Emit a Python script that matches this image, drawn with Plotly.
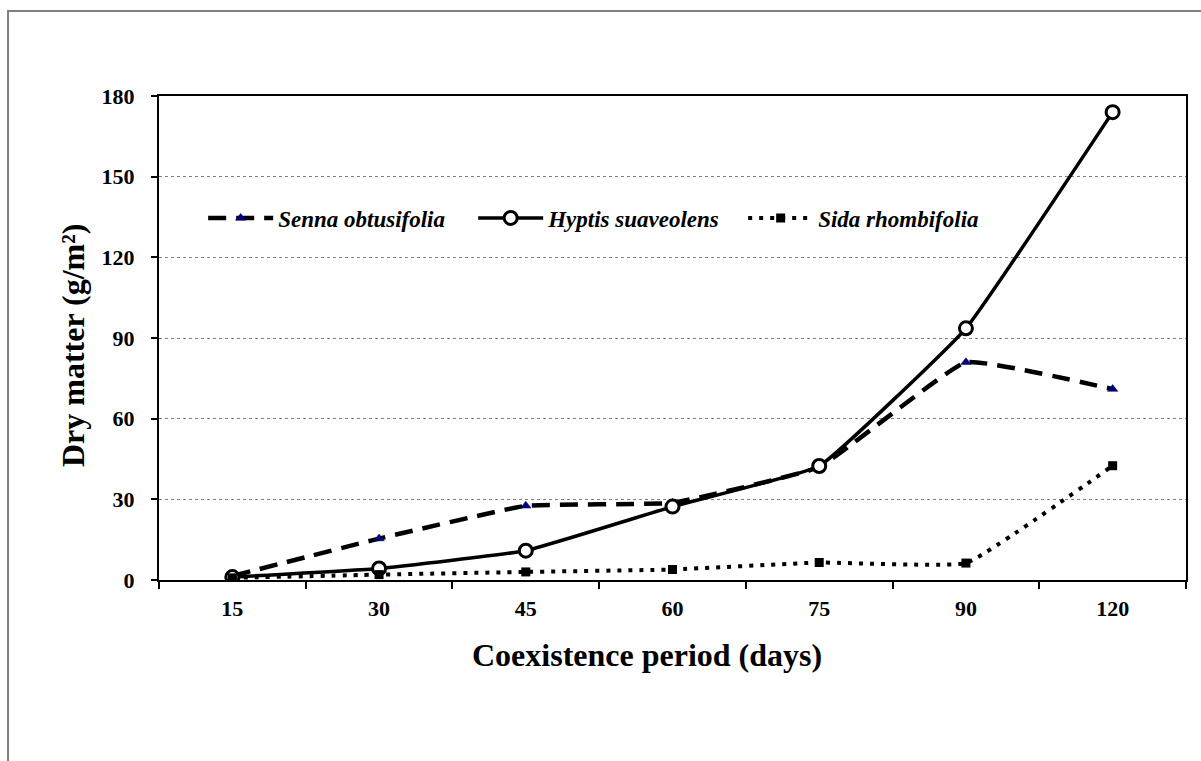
import plotly.graph_objects as go

periods = ["15", "30", "45", "60", "75", "90", "120"]
senna = [1.5, 15.4, 27.6, 28.7, 42.0, 81.0, 71.0]
hyptis = [1.1, 4.3, 10.9, 27.3, 42.4, 93.6, 174.0]
sida = [0.8, 2.0, 3.0, 3.9, 6.5, 6.3, 42.5]
y_ticks = [0, 30, 60, 90, 120, 150, 180]

FONT = "Times New Roman, Liberation Serif, serif"

fig = go.Figure()
fig.add_trace(go.Scatter(
    x=periods, y=senna, name="Senna obtusifolia", mode="lines+markers",
    line=dict(color="black", width=4.5, dash="18px,10px", shape="spline", smoothing=0.3),
    marker=dict(symbol="triangle-up", size=9, color="#000080", line=dict(color="#000040", width=0.5)),
))
fig.add_trace(go.Scatter(
    x=periods, y=hyptis, name="Hyptis suaveolens", mode="lines+markers",
    line=dict(color="black", width=3.5, shape="spline", smoothing=0.3),
    marker=dict(symbol="circle", size=13, color="white", line=dict(color="black", width=3)),
))
fig.add_trace(go.Scatter(
    x=periods, y=sida, name="Sida rhombifolia", mode="lines+markers",
    line=dict(color="black", width=4, dash="4px,7px", shape="spline", smoothing=0.3),
    marker=dict(symbol="square", size=9, color="black"),
))

fig.update_layout(
    width=1201, height=761,
    margin=dict(l=159, r=15, t=96, b=181),
    paper_bgcolor="white", plot_bgcolor="white",
    font=dict(family=FONT, color="black"),
    showlegend=True,
    legend=dict(
        orientation="h", x=0.043, y=0.748, xanchor="left", yanchor="middle",
        font=dict(family=FONT, size=23, weight="bold", style="italic", color="black"),
        bgcolor="rgba(0,0,0,0)", entrywidth=190, entrywidthmode="pixels",
        itemwidth=65,
    ),
    shapes=[dict(
        type="rect", xref="paper", yref="paper",
        x0=-0.147, x1=1.05, y0=-0.5, y1=1.1756,
        line=dict(color="#7f7f7f", width=2), fillcolor="rgba(0,0,0,0)", layer="below",
    )],
    annotations=[
        dict(text="Coexistence period (days)", xref="paper", yref="paper",
             x=0.475, y=-0.155, xanchor="center", yanchor="middle", showarrow=False,
             font=dict(family=FONT, size=32, weight="bold", color="black")),
        dict(text="Dry matter (g/m²)", xref="paper", yref="paper",
             x=-0.0837, y=0.4855, xanchor="center", yanchor="middle", showarrow=False,
             textangle=-90,
             font=dict(family=FONT, size=32, weight="bold", color="black")),
    ],
)

fig.update_xaxes(
    type="category", categoryorder="array", categoryarray=periods,
    range=[-0.5, 6.5], tickson="boundaries",
    showline=True, linecolor="black", linewidth=2, mirror=True,
    ticks="outside", ticklen=7, tickwidth=1.5, tickcolor="black",
    showgrid=False, zeroline=False,
    tickfont=dict(family=FONT, size=22, weight="bold", color="black"),
    ticklabelstandoff=8,
)
fig.update_yaxes(
    range=[0, 180], tickvals=y_ticks,
    showline=True, linecolor="black", linewidth=2, mirror=True,
    ticks="outside", ticklen=6, tickwidth=1.5, tickcolor="black",
    showgrid=True, gridcolor="#808080", gridwidth=1, griddash="dot",
    zeroline=False,
    tickfont=dict(family=FONT, size=22, weight="bold", color="black"),
    ticklabelstandoff=12,
)

fig.write_html("out.html")
